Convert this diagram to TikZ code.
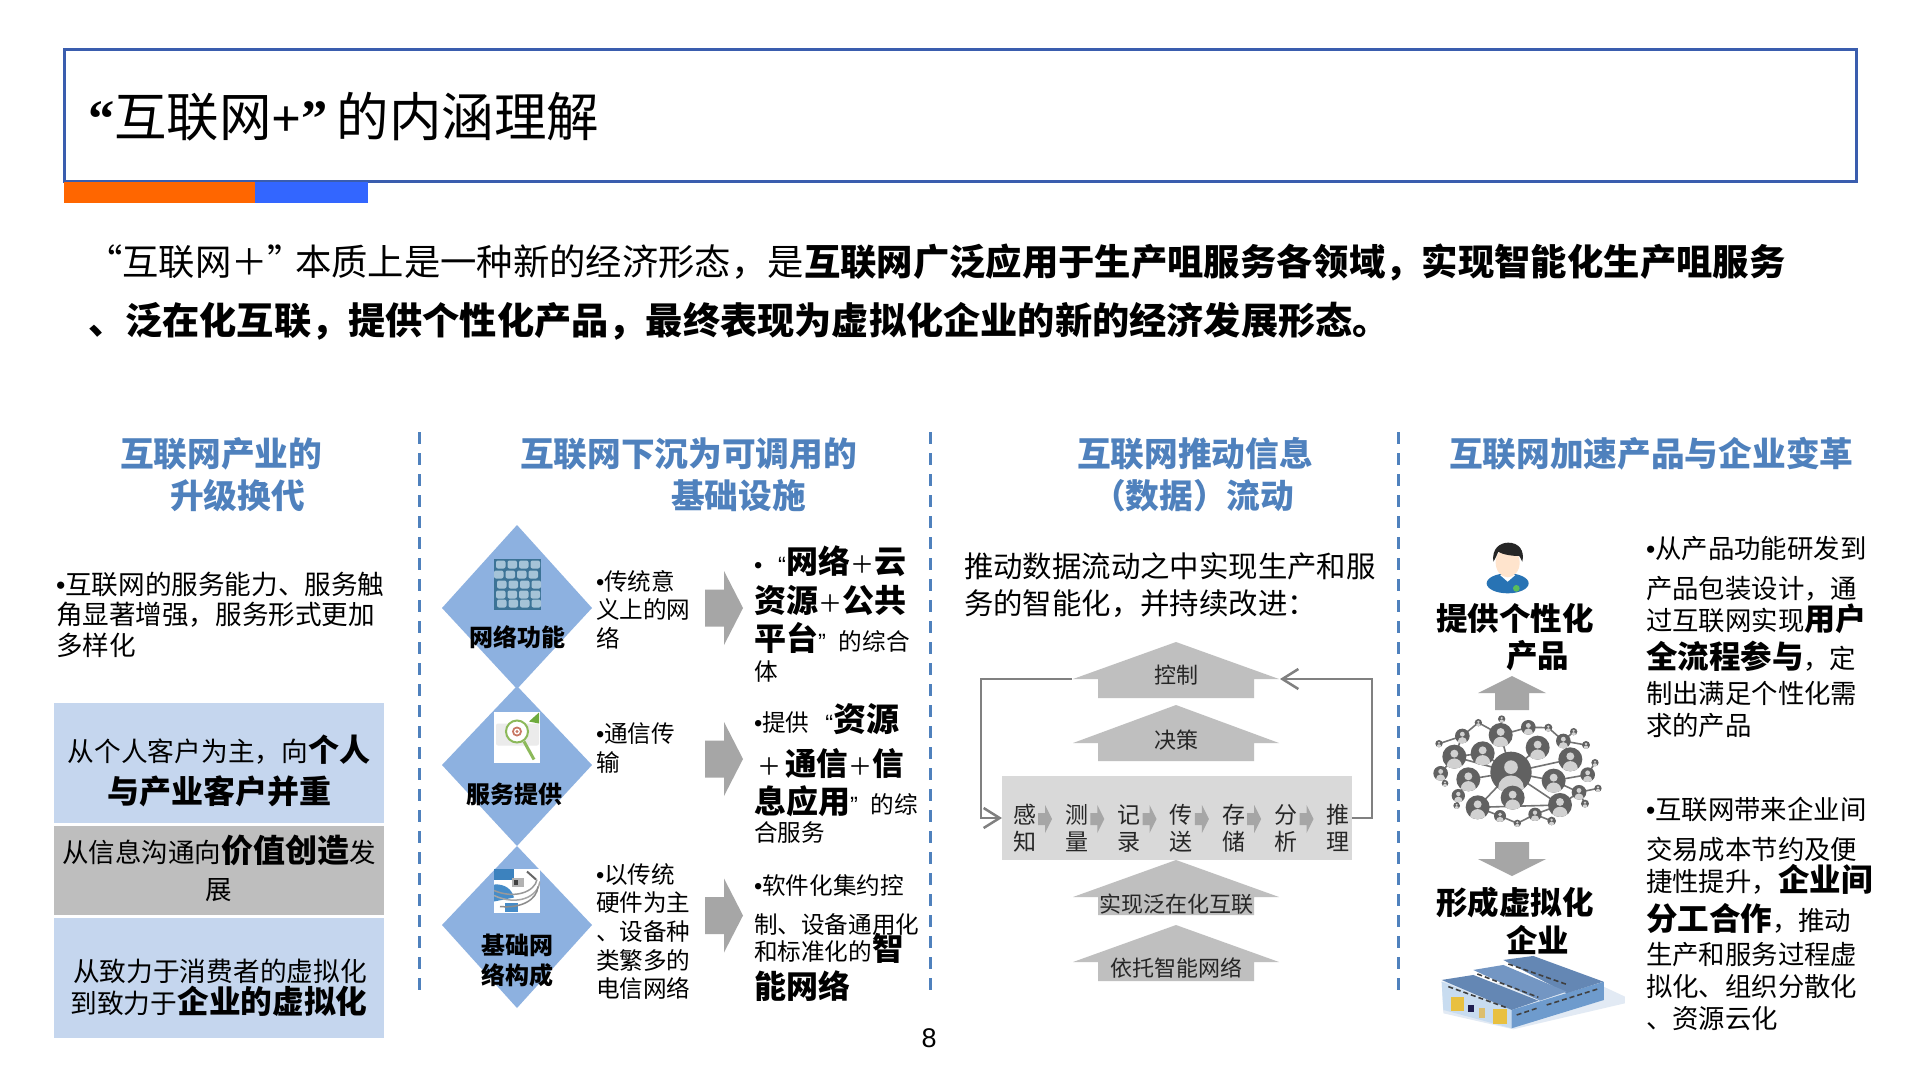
\documentclass[tikz,border=0pt]{standalone}
\usepackage{fontspec}
\setmainfont{Noto Sans CJK SC}
\newfontfamily\lib{Liberation Sans}
\newfontfamily\libs{Liberation Serif}
\usetikzlibrary{arrows.meta}
\definecolor{frame}{HTML}{3A5DAE}
\definecolor{hd}{HTML}{4F81BD}
\definecolor{boxb}{HTML}{C5D6EE}
\definecolor{boxg}{HTML}{BEBEBE}
\definecolor{dia}{HTML}{8DB1E0}
\definecolor{arr}{HTML}{A6A6A6}
\definecolor{arl}{HTML}{BFBFBF}
\newcommand\fs[1]{\fontsize{#1}{#1}\selectfont}
\newcommand\bu{{\lib •}}
\newcommand\qo{{\lib “}}
\newcommand\qc{{\lib ”}}
\newcommand\bd[2]{{\bfseries\fs{#1}#2}}
\newcommand\pl{{\fs{24}＋}}
\newcommand\netn[3]{\fill[color=black!62] (#1,#2) circle[radius=#3];
  \begin{scope}\clip (#1,#2) circle[radius=#3];
  \fill[color=black!18] (#1,{#2-0.25*#3}) circle[radius={0.33*#3}];
  \fill[color=black!18] (#1,{#2+0.75*#3}) ellipse[x radius={0.62*#3},y radius={0.6*#3}];
  \end{scope}}
\tikzset{
 tx/.style={anchor=base west,inner sep=0pt,outer sep=0pt,font=\fs{26}},
 tc/.style={anchor=base,inner sep=0pt,outer sep=0pt,font=\fs{26}},
 hdr/.style={tx,font=\fs{33.7}\bfseries,text=hd},
 mid/.style={tx,font=\fs{23.6}},
 rtx/.style={tx,font=\fs{23.6}},
 dcap/.style={tc,font=\fs{24}\bfseries},
 bigt/.style={tx,font=\fs{31.5}\bfseries},
 flab/.style={tc,font=\fs{22},text=black!85},
 word/.style={tc,font=\fs{23},text=black!85},
 bar/.style={draw=none,inner sep=0pt,outer sep=0pt,anchor=north west},
 sepl/.style={draw=hd,line width=3pt,dash pattern=on 12pt off 9pt},
 fb/.style={draw=black!50,line width=2.5pt},
}
\newcommand\uparr[7]{% cx tip wing bottom wingHalf shaftHalf colour
 \fill[#7] (#1,#2) -- ({#1+#5},#3) -- ({#1+#6},#3) -- ({#1+#6},#4) -- ({#1-#6},#4) -- ({#1-#6},#3) -- ({#1-#5},#3) -- cycle;}
\begin{document}
\begin{tikzpicture}[x=1pt,y=-1pt]
\useasboundingbox[fill=white] (0,0) rectangle (1920,1080);
% title
\draw[frame,line width=3pt] (64,49) rectangle (1856,181);
\fill[color={rgb,255:red,255;green,102;blue,0}] (64,182) rectangle (255,203);
\fill[color={rgb,255:red,51;green,102;blue,255}] (255,182) rectangle (368,203);
\node[tx,font=\fs{52.5}] (title) at (88,136) {{\libs\bfseries “}互联网{\libs\bfseries +”}\hspace{9pt}的内涵理解};
% intro
\node[tx,font=\fs{36.35}] (in1) at (86,275) {“互联网＋”\hspace{-9pt}本质上是一种新的经济形态，是{\bfseries 互联网广泛应用于生产咀服务各领域，实现智能化生产咀服务}};
\node[tx,font=\fs{37.2}\bfseries] (in2) at (88,334) {、泛在化互联，提供个性化产品，最终表现为虚拟化企业的新的经济发展形态。};
% separators
\coordinate (s1t) at (419,432); \coordinate (s1b) at (419,992);
\coordinate (s2t) at (930,432); \coordinate (s2b) at (930,992);
\coordinate (s3t) at (1398,432); \coordinate (s3b) at (1398,992);
\draw[sepl] (s1t) -- (s1b); \draw[sepl] (s2t) -- (s2b); \draw[sepl] (s3t) -- (s3b);
% headers
\node[hdr] (h1a) at (120,466) {互联网产业的};
\node[hdr] (h1b) at (170,508) {升级换代};
\node[hdr] (h2a) at (520,466) {互联网下沉为可调用的};
\node[hdr] (h2b) at (671,508) {基础设施};
\node[hdr] (h3a) at (1077,466) {互联网推动信息};
\node[hdr] (h3b) at (1092,508) {（数据）流动};
\node[hdr] (h4a) at (1449,466) {互联网加速产品与企业变革};
% column 1
\node[tx,font=\fs{26.6}] (l1) at (56,594) {\bu 互联网的服务能力、服务触};
\node[tx,font=\fs{26.6}] (l2) at (56,624) {角显著增强，服务形式更加};
\node[tx,font=\fs{26.6}] (l3) at (56,655) {多样化};
\node[bar,fill=boxb,minimum width=330pt,minimum height=120pt] (b1) at (54,703) {};
\node[bar,fill=boxg,minimum width=330pt,minimum height=89pt] (b2) at (54,826) {};
\node[bar,fill=boxb,minimum width=330pt,minimum height=120pt] (b3) at (54,918) {};
\node[tc,font=\fs{26.7}] (b1a) at (219,761) {从个人客户为主，向\bd{31}{个人}};
\node[tc,font=\fs{32}\bfseries] (b1b) at (219,803) {与产业客户并重};
\node[tc,font=\fs{26.5}] (b2a) at (219,862) {从信息沟通向\bd{32}{价值创造}发};
\node[tc,font=\fs{26.5}] (b2b) at (219,899) {展};
\node[tc,font=\fs{26.7}] (b3a) at (220,981) {从致力于消费者的虚拟化};
\node[tc,font=\fs{26.7}] (b3b) at (219,1013) {到致力于\bd{31.7}{企业的虚拟化}};
% diamonds
\fill[dia] (517,525) -- (592,608) -- (517,689) -- (442,608) -- cycle;
\fill[dia] (517,686) -- (592,765) -- (517,846) -- (442,765) -- cycle;
\fill[dia] (517,846) -- (592,925) -- (517,1008) -- (442,925) -- cycle;
% image 1
\begin{scope}[yshift=-2.5pt]
\fill[color={rgb,255:red,60;green,115;blue,150}] (494,556) rectangle (541,607);
\foreach \yy/\xs in {562/496,572/494,582/497,592/496,601/497}
 \foreach \i in {0,1,2,3}
  \fill[color={rgb,255:red,165;green,195;blue,215},rounded corners=2pt] ({\xs+\i*11.5},\yy-4) rectangle ({\xs+\i*11.5+9.5},\yy+4);
\end{scope}
% image 2
\begin{scope}[yshift=-7.5pt]
\fill[white] (494,704) rectangle (540,755);
\fill[color=black!8,rounded corners=2pt] (496,716) rectangle (539,738);
\draw[color={rgb,255:red,140;green,185;blue,90},line width=2pt,fill=white] (517,724) circle[radius=11];
\fill[color={rgb,255:red,200;green,120;blue,100}] (517,724) circle[radius=5];
\fill[white] (517,724) circle[radius=3];
\fill[color={rgb,255:red,200;green,120;blue,100}] (517,724) circle[radius=1.6];
\draw[color={rgb,255:red,140;green,185;blue,90},line width=3pt] (524,734) -- (534,752);
\fill[color={rgb,255:red,110;green,170;blue,60}] (529,714) -- (539,705) -- (539,716) -- cycle;
\end{scope}
% image 3
\begin{scope}[yshift=-11.5pt]
\fill[white] (494,857) rectangle (540,901.5);
\begin{scope}
\clip (494,857) rectangle (540,901.5);
\fill[color={rgb,255:red,60;green,130;blue,190}] (494,857) rectangle (514,868);
\fill[color={rgb,255:red,70;green,140;blue,200}] (494,873) .. controls (505,872) and (512,878) .. (514,886) -- (494,890) -- cycle;
\fill[color={rgb,255:red,70;green,140;blue,200}] (505,891) rectangle (518,900);
\draw[color=black!40,line width=1.5pt] (494,879) .. controls (515,888) and (535,880) .. (537,868);
\draw[color=black!35,line width=1.5pt] (494,884) .. controls (518,895) and (538,885) .. (540,870);
\draw[color=black!45,line width=1.5pt] (500,895) .. controls (522,897) and (537,888) .. (538,875);
\fill[color=black!30] (512,866) rectangle (524,875);
\fill[color=black!75] (514,868) rectangle (518,873);
\draw[color=black!60,line width=2pt] (527,860) -- (536,868);
\end{scope}
\end{scope}
\node[dcap] (d1) at (517,646) {网络功能};
\node[dcap] (d2) at (514,803) {服务提供};
\node[dcap] (d3a) at (517,954) {基础网};
\node[dcap] (d3b) at (517,984) {络构成};
% middle texts
\node[mid] (m1a) at (596,590) {\bu 传统意};
\node[mid] (m1b) at (596,618) {义上的网};
\node[mid] (m1c) at (596,647) {络};
\node[mid] (m2a) at (596,742) {\bu 通信传};
\node[mid] (m2b) at (596,771) {输};
\node[mid] (m3a) at (596,883) {\bu 以传统};
\node[mid] (m3b) at (596,911.5) {硬件为主};
\node[mid] (m3c) at (596,940) {、设备种};
\node[mid] (m3d) at (596,969) {类繁多的};
\node[mid] (m3e) at (596,997.5) {电信网络};
% chevrons
\foreach \cy in {608,759,915.5}
 \fill[arr] (705,\cy-18.5) -- (724,\cy-18.5) -- (724,\cy-37) -- (743,\cy) -- (724,\cy+37) -- (724,\cy+18.5) -- (705,\cy+18.5) -- cycle;
% right texts col 2
\node[rtx] (r1a) at (754,573) {\bu\hspace{16pt}\qo\bd{32}{网络}\pl\bd{32}{云}};
\node[rtx] (r1b) at (754,612) {\bd{32}{资源}\pl\bd{32}{公共}};
\node[rtx] (r1c) at (754,650) {\bd{32}{平台}\qc\hspace{13pt}的综合};
\node[rtx] (r1d) at (754,680) {体};
\node[rtx] (r2a) at (754,731) {\bu 提供\hspace{16pt}\qo\bd{33}{资源}};
\node[rtx] (r2b) at (757,775) {\pl\hspace{4pt}\bd{31.5}{通信}\pl\bd{31.5}{信}};
\node[rtx] (r2c) at (754,813) {\bd{32}{息应用}\qc\hspace{13pt}的综};
\node[rtx] (r2d) at (754,841.5) {合服务};
\node[rtx] (r3a) at (754,894) {\bu 软件化集约控};
\node[rtx] (r3b) at (754,933) {制、设备通用化};
\node[rtx] (r3c) at (754,960) {和标准化的\bd{31.5}{智}};
\node[rtx] (r3d) at (754,998) {\bd{32}{能网络}};
% column 3
\node[tx,font=\fs{29.4}] (c1) at (964,577) {推动数据流动之中实现生产和服};
\node[tx,font=\fs{29.4}] (c2) at (964,614) {务的智能化，并持续改进：};
\node[bar,fill=black!15,minimum width=350pt,minimum height=84pt] (band) at (1002,776) {};
\uparr{1176}{642}{679}{698}{103}{78}{arl}
\uparr{1176}{705}{743}{761}{103}{78}{arl}
\uparr{1176}{860}{897}{915}{103}{78}{arl}
\uparr{1176}{925}{962}{981}{103}{78}{arl}
\coordinate (ctlL) at (1072,679); \coordinate (ctlR) at (1280,679);
\coordinate (fbL) at (981,679); \coordinate (fbR) at (1372,679);
\draw[fb,-{Straight Barb[length=16pt,width=20pt]}] (ctlL) -- (fbL) |- (band.west);
\draw[fb,-{Straight Barb[length=16pt,width=20pt]}] (band.east) -| (fbR) -- (ctlR);
\foreach \i in {0,...,5}
 \fill[arr] ({1038+\i*52.3},813) -- ({1045+\i*52.3},813) -- ({1045+\i*52.3},805) -- ({1052+\i*52.3},819) -- ({1045+\i*52.3},833) -- ({1045+\i*52.3},825) -- ({1038+\i*52.3},825) -- cycle;
\node[word] (w1a) at (1024.5,823) {感}; \node[word] (w1b) at (1024.5,850) {知};
\node[word] (w2a) at (1076.8,823) {测}; \node[word] (w2b) at (1076.8,850) {量};
\node[word] (w3a) at (1129.1,823) {记}; \node[word] (w3b) at (1129.1,850) {录};
\node[word] (w4a) at (1181.4,823) {传}; \node[word] (w4b) at (1181.4,850) {送};
\node[word] (w5a) at (1233.7,823) {存}; \node[word] (w5b) at (1233.7,850) {储};
\node[word] (w6a) at (1286,823) {分}; \node[word] (w6b) at (1286,850) {析};
\node[word] (w7a) at (1338.3,823) {推}; \node[word] (w7b) at (1338.3,850) {理};
\node[flab] (f1) at (1176,683) {控制};
\node[flab] (f2) at (1176,748) {决策};
\node[flab] (f3) at (1176,912) {实现泛在化互联};
\node[flab] (f4) at (1176,976) {依托智能网络};
% column 4
\begin{scope}[shift={(1400,520)},x=0.3333pt,y=-0.3333pt]
 % person
 \fill[color={rgb,255:red,40;green,115;blue,180}] (323,190) ellipse[x radius=63,y radius=30];
 \fill[white] (300,165) -- (346,165) -- (323,185) -- cycle;
 \fill[color={rgb,255:red,255;green,228;blue,205}] (323,128) ellipse[x radius=36,y radius=44];
 \fill[black!85] (280,125) .. controls (275,85) and (300,68) .. (325,68) .. controls (355,68) and (375,90) .. (367,125) -- (358,108) .. controls (340,108) and (310,105) .. (295,95) .. controls (290,105) and (287,115) .. (280,125) -- cycle;
 \fill[color={rgb,255:red,90;green,190;blue,90}] (349,205) circle[radius=10];
 % network links
 \begin{scope}[color=black!55,line width=1.6pt]
 \foreach \a/\b/\c/\d in {333/757/302/645,333/757/248/700,333/757/163/710,333/757/205/778,333/757/413/683,333/757/511/718,333/757/461/782,333/757/480/855,333/757/233/862,233/862/480/855,302/645/235/608,302/645/385/622,302/645/305/597,385/622/445/623,445/623/490/663,490/663/521/635,490/663/558/675,187/648/235/608,187/648/117/671,163/710/187/648,163/710/122/760,122/760/135/790,205/778/175/827,175/827/170/857,233/862/300/888,300/888/352/910,352/910/405/883,405/883/480/855,405/883/455/903,461/782/537/817,461/782/563/764,563/764/585/728,537/817/594/805,537/817/555/851,480/855/537/817,248/700/163/710}
  \draw (\a,\b) -- (\c,\d);
 \end{scope}
 \netn{333}{757}{62}
 \netn{302}{645}{36}\netn{248}{700}{36}\netn{163}{710}{36}\netn{205}{778}{36}\netn{413}{683}{36}\netn{511}{718}{36}\netn{461}{782}{36}\netn{480}{855}{36}\netn{338}{833}{36}\netn{233}{862}{36}
 \netn{235}{608}{11}\netn{305}{597}{11}\netn{385}{622}{22}\netn{445}{623}{12}\netn{521}{635}{11}\netn{490}{663}{22}\netn{558}{675}{12}\netn{187}{648}{22}\netn{117}{671}{11}\netn{122}{760}{22}\netn{135}{790}{10}\netn{175}{827}{20}\netn{170}{857}{10}\netn{300}{888}{18}\netn{352}{910}{11}\netn{405}{883}{20}\netn{455}{903}{13}\netn{585}{728}{11}\netn{563}{764}{22}\netn{594}{805}{11}\netn{537}{817}{22}\netn{555}{851}{12}
 % building
 \fill[color={rgb,255:red,226;green,234;blue,244}] (600,1395) -- (675,1430) -- (675,1450) -- (340,1528) -- (130,1480) -- (125,1385) -- cycle;
 \fill[color={rgb,255:red,200;green,220;blue,240}] (125,1385) -- (335,1470) -- (335,1525) -- (130,1470) -- cycle;
 \fill[color={rgb,255:red,110;green,155;blue,205}] (335,1470) -- (612,1385) -- (612,1440) -- (335,1525) -- cycle;
 \fill[color={rgb,255:red,100;green,135;blue,180}] (310,1320) -- (400,1308) -- (610,1385) -- (500,1420) -- cycle;
 \fill[color={rgb,255:red,115;green,150;blue,195}] (220,1350) -- (310,1335) -- (500,1415) -- (420,1442) -- cycle;
 \fill[color={rgb,255:red,100;green,135;blue,180}] (125,1380) -- (220,1365) -- (415,1442) -- (335,1470) -- cycle;
 \begin{scope}[color=black!75,line width=1.6pt,dash pattern=on 5pt off 3pt]
  \draw (145,1400) -- (325,1465);
  \draw (232,1362) -- (415,1432);
  \draw (325,1332) -- (505,1395);
  \draw (350,1485) -- (410,1465);
  \draw (440,1455) -- (600,1405);
 \end{scope}
 \fill[color={rgb,255:red,232;green,192;blue,64}] (152,1432) rectangle (192,1472);
 \fill[color={rgb,255:red,232;green,192;blue,64}] (278,1468) rectangle (320,1512);
 \fill[color={rgb,255:red,30;green,30;blue,80}] (205,1455) rectangle (222,1475);
 \fill[color={rgb,255:red,220;green,190;blue,110}] (238,1465) rectangle (255,1495);
\end{scope}
\node[bigt] (p1a) at (1436,630) {提供个性化};
\node[bigt] (p1b) at (1506,667) {产品};
\node[bigt] (p2a) at (1436,914) {形成虚拟化};
\node[bigt] (p2b) at (1506,952) {企业};
\uparr{1512}{676}{693}{710}{34}{17}{arr}
\uparr{1512}{876}{859}{842}{34}{17}{arr}
\node[tx,font=\fs{26.4}] (t1) at (1646,558) {\bu 从产品功能研发到};
\node[tx,font=\fs{26.4}] (t2) at (1646,598) {产品包装设计，通};
\node[tx,font=\fs{26.4}] (t3) at (1646,630) {过互联网实现\bd{31}{用户}};
\node[tx,font=\fs{26.4}] (t4) at (1646,668) {\bd{31.5}{全流程参与}，定};
\node[tx,font=\fs{26.4}] (t5) at (1646,703) {制出满足个性化需};
\node[tx,font=\fs{26.4}] (t6) at (1646,735) {求的产品};
\node[tx,font=\fs{26.4}] (t7) at (1646,819) {\bu 互联网带来企业间};
\node[tx,font=\fs{26.4}] (t8) at (1646,859) {交易成本节约及便};
\node[tx,font=\fs{26.4}] (t9) at (1646,891) {捷性提升，\bd{31.5}{企业间}};
\node[tx,font=\fs{26.4}] (t10) at (1646,930) {\bd{31.5}{分工合作}，推动};
\node[tx,font=\fs{26.4}] (t11) at (1646,964) {生产和服务过程虚};
\node[tx,font=\fs{26.4}] (t12) at (1646,996) {拟化、组织分散化};
\node[tx,font=\fs{26.4}] (t13) at (1646,1028) {、资源云化};
% page number
\node[tc,font=\lib\fs{27}] (pg) at (929,1047) {8};
\end{tikzpicture}
\end{document}
